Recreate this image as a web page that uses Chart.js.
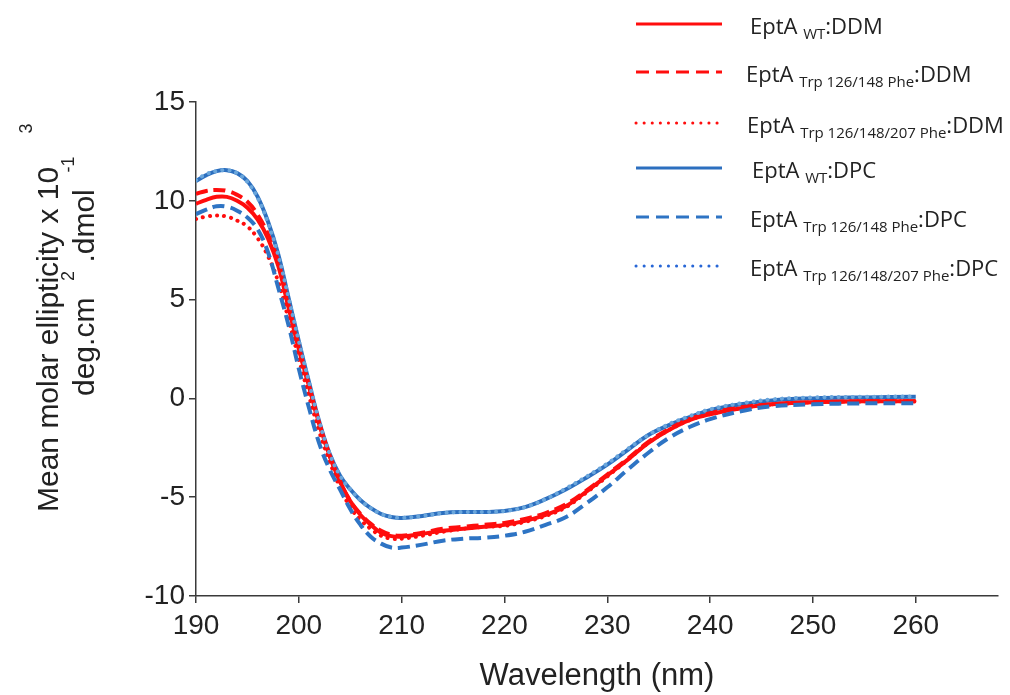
<!DOCTYPE html>
<html>
<head>
<meta charset="utf-8">
<script src="https://cdn.jsdelivr.net/npm/chart.js@4/dist/chart.umd.min.js"></script>
<style>
  html, body { margin: 0; padding: 0; background: #fff; }
  #wrap { width: 1010px; height: 695px; position: relative; }
</style>
</head>
<body>
<div id="wrap"><canvas id="cdChart" width="1010" height="695"></canvas></div>
<script>
// wavelength (nm) and mean molar ellipticity (x10^3 deg.cm2.dmol-1)
const wavelengths = [190,191,192,193,194,195,196,197,198,199,200,201,202,203,204,205,206,207,208,209,210,
  212,214,216,218,220,222,224,226,228,230,232,234,236,238,240,243,246,250,255,260];

const wtDDM = [9.85,10.05,10.2,10.2,10.0,9.65,9.05,8.1,6.7,4.6,2.5,0.6,-1.3,-2.9,-4.2,-5.2,-5.9,-6.4,-6.8,-6.97,-7.0,
  -6.85,-6.7,-6.6,-6.5,-6.4,-6.2,-5.9,-5.45,-4.7,-3.9,-3.1,-2.25,-1.6,-1.1,-0.8,-0.5,-0.3,-0.2,-0.15,-0.15];
const trpDDM = [10.35,10.5,10.55,10.5,10.3,9.95,9.3,8.3,6.9,4.7,2.6,0.6,-1.3,-2.9,-4.2,-5.2,-5.85,-6.35,-6.7,-6.9,-6.95,
  -6.8,-6.6,-6.5,-6.4,-6.3,-6.1,-5.8,-5.35,-4.65,-3.85,-3.05,-2.2,-1.55,-1.05,-0.75,-0.45,-0.3,-0.2,-0.15,-0.15];
const trp207DDM = [9.08,9.2,9.25,9.2,9.0,8.7,8.1,7.2,5.9,4.0,2.0,0.1,-1.7,-3.2,-4.5,-5.5,-6.15,-6.6,-6.95,-7.1,-7.1,
  -6.95,-6.75,-6.6,-6.5,-6.45,-6.25,-5.95,-5.5,-4.75,-3.95,-3.1,-2.25,-1.6,-1.1,-0.8,-0.5,-0.3,-0.2,-0.15,-0.15];
const wtDPC = [11.0,11.3,11.5,11.55,11.4,11.0,10.2,8.95,7.3,5.1,2.9,0.8,-1.2,-2.8,-3.9,-4.6,-5.15,-5.55,-5.85,-6.0,-6.05,
  -5.95,-5.8,-5.75,-5.75,-5.7,-5.5,-5.1,-4.6,-4.0,-3.35,-2.6,-1.85,-1.35,-0.95,-0.6,-0.3,-0.1,0.0,0.05,0.08];
const trpDPC = [9.33,9.55,9.72,9.7,9.5,9.15,8.55,7.4,5.6,3.7,1.5,-0.5,-2.3,-3.6,-4.6,-5.6,-6.4,-7.0,-7.35,-7.55,-7.55,
  -7.4,-7.2,-7.1,-7.05,-6.95,-6.75,-6.4,-6.0,-5.3,-4.5,-3.6,-2.75,-2.0,-1.45,-1.05,-0.65,-0.4,-0.3,-0.25,-0.25];
const trp207DPC = [11.05,11.35,11.5,11.55,11.4,10.95,10.15,8.9,7.25,5.1,2.9,0.8,-1.2,-2.8,-3.9,-4.6,-5.15,-5.55,-5.85,-6.0,-6.05,
  -5.95,-5.8,-5.75,-5.75,-5.7,-5.5,-5.1,-4.55,-3.95,-3.3,-2.55,-1.85,-1.3,-0.9,-0.55,-0.25,-0.05,0.05,0.08,0.1];

const xTickValues = [190,200,210,220,230,240,250,260];
const yTickValues = [-10,-5,0,5,10,15];

// legend text pieces: main, subscript, suffix
const legendMain = ['EptA','EptA','EptA','EptA','EptA','EptA'];
const legendSub = ['WT','Trp 126/148 Phe','Trp 126/148/207 Phe','WT','Trp 126/148 Phe','Trp 126/148/207 Phe'];
const legendSuffix = [':DDM',':DDM',':DDM',':DPC',':DPC',':DPC'];

const RED = '#ff0d0d';
const BLUE = '#2c6fbf';
const BLUE_DASH = '#2e74c4';
const BLUE_DOT = '#6aa6dc';

function pts(arr) {
  return wavelengths.map((w, i) => ({ x: w, y: arr[i] }));
}

function makeSet(i, arr, color, dash, order, legendColor) {
  return {
    label: legendMain[i] + ' ' + legendSub[i] + legendSuffix[i],
    data: pts(arr),
    borderColor: color,
    legendColor: legendColor || color,
    borderWidth: 4,
    borderDash: dash,
    borderCapStyle: dash.length && dash[0] < 1 ? 'round' : 'butt',
    pointRadius: 0,
    tension: 0.4,
    fill: false,
    order: order
  };
}

const datasets = [
  makeSet(0, wtDDM, RED, [], 2),
  makeSet(1, trpDDM, RED, [12, 6], 3),
  makeSet(2, trp207DDM, RED, [0.1, 7], 4),
  makeSet(3, wtDPC, BLUE, [], 5),
  makeSet(4, trpDPC, BLUE_DASH, [12, 6], 1),
  makeSet(5, trp207DPC, BLUE_DOT, [0.1, 7], 0, '#2766d6')
];

// custom legend with subscripts
const legendRows = [24, 72, 123, 168, 217, 266];
const legendTextX = [750, 746, 747, 752, 750, 750];
const legendPlugin = {
  id: 'subLegend',
  afterDraw(chart) {
    const ctx = chart.ctx;
    ctx.save();
    chart.data.datasets.forEach((ds, i) => {
      const y = legendRows[i];
      ctx.beginPath();
      ctx.strokeStyle = ds.legendColor;
      ctx.lineWidth = 3;
      ctx.lineCap = ds.borderCapStyle;
      ctx.setLineDash(ds.borderDash.length ? (ds.borderDash[0] < 1 ? [0.1, 8] : [13, 7]) : []);
      ctx.moveTo(636, y);
      ctx.lineTo(722, y);
      ctx.stroke();
      ctx.setLineDash([]);
      let x = legendTextX[i];
      ctx.fillStyle = '#222';
      ctx.textBaseline = 'alphabetic';
      ctx.font = '22px "Open Sans", "Noto Sans", sans-serif';
      ctx.fillText(legendMain[i] + ' ', x, y + 10);
      x += ctx.measureText(legendMain[i] + ' ').width;
      ctx.font = '15px "Open Sans", "Noto Sans", sans-serif';
      ctx.fillText(legendSub[i], x, y + 15);
      x += ctx.measureText(legendSub[i]).width;
      ctx.font = '22px "Open Sans", "Noto Sans", sans-serif';
      ctx.fillText(legendSuffix[i], x, y + 10);
    });
    ctx.restore();
  }
};

// rotated two-line y axis title with superscripts
const yTitleLines = [
  { x: 58, y: 512, parts: [['Mean molar ellipticity x 10', 0], ['    ', 0], ['3', -26]] },
  { x: 94, y: 396, parts: [['deg.cm', 0], ['  ', 0], ['2', -20], [' .dmol', 0], ['  ', 0], ['-1', -20]] }
];
const yTitlePlugin = {
  id: 'yTitle',
  afterDraw(chart) {
    const ctx = chart.ctx;
    ctx.save();
    ctx.fillStyle = '#222';
    ctx.textBaseline = 'alphabetic';
    yTitleLines.forEach(line => {
      ctx.save();
      ctx.translate(line.x, line.y);
      ctx.rotate(-Math.PI / 2);
      let pos = 0;
      line.parts.forEach(([txt, dy]) => {
        ctx.font = (dy ? '18px' : '30px') + ' "Liberation Sans", Arial, sans-serif';
        ctx.fillText(txt, pos, dy);
        pos += ctx.measureText(txt).width;
      });
      ctx.restore();
    });
    ctx.restore();
  }
};

const axisColor = '#3a3a3a';
const chart = new Chart(document.getElementById('cdChart').getContext('2d'), {
  type: 'line',
  data: { datasets: datasets },
  plugins: [legendPlugin, yTitlePlugin],
  options: {
    responsive: false,
    animation: false,
    layout: { padding: { top: 102, right: 12, bottom: 0, left: 0 } },
    plugins: { legend: { display: false }, tooltip: { enabled: false } },
    scales: {
      x: {
        type: 'linear',
        min: 190,
        max: 268,
        afterBuildTicks: s => { s.ticks = xTickValues.map(v => ({ value: v })); },
        afterFit: s => { s.height = 99; },
        grid: { drawOnChartArea: false, drawTicks: true, tickLength: 7, color: axisColor, lineWidth: 1.5 },
        border: { display: true, color: axisColor, width: 1.5 },
        ticks: { color: '#222', padding: 6, maxRotation: 0, font: { family: '"Liberation Sans", Arial, sans-serif', size: 28 } },
        title: { display: true, text: 'Wavelength (nm)', color: '#222', padding: { top: 6, bottom: 0 },
          font: { family: '"Liberation Sans", Arial, sans-serif', size: 31 } }
      },
      y: {
        min: -10,
        max: 15,
        afterBuildTicks: s => { s.ticks = yTickValues.map(v => ({ value: v })); },
        afterFit: s => { s.width = 196; },
        grid: { drawOnChartArea: false, drawTicks: true, tickLength: 7, color: axisColor, lineWidth: 1.5 },
        border: { display: true, color: axisColor, width: 1.5 },
        ticks: { color: '#222', padding: 4, font: { family: '"Liberation Sans", Arial, sans-serif', size: 28 } }
      }
    }
  }
});
</script>
</body>
</html>
